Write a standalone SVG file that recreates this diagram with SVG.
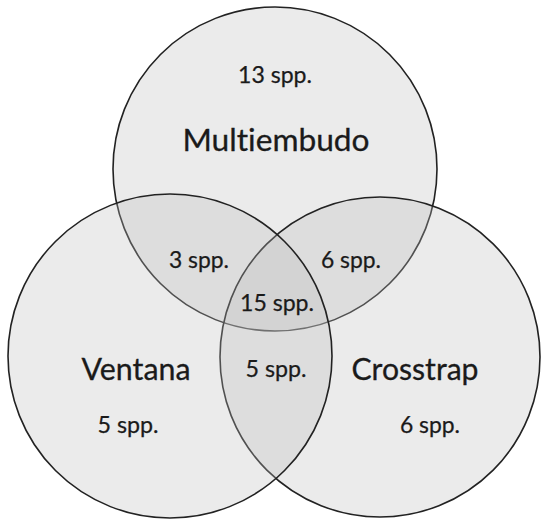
<svg xmlns="http://www.w3.org/2000/svg" width="541" height="521" viewBox="0 0 541 521">
<style>
.c{fill:#bebebe;fill-opacity:0.3;stroke:#222;stroke-width:1.6}
.l{font-family:Lato,"Open Sans",sans-serif;font-size:22.5px;fill:#1a1a1a;text-anchor:middle;font-variant-ligatures:none;stroke:#1a1a1a;stroke-width:0.25}
.t{font-family:Lato,"Open Sans",sans-serif;font-size:30px;fill:#1a1a1a;text-anchor:middle;font-variant-ligatures:none;stroke:#1a1a1a;stroke-width:0.3}
</style>
<rect width="541" height="521" fill="#fff"/>
<g id="multiembudo"><circle class="c" cx="275" cy="169" r="162"/></g>
<g id="crosstrap"><circle class="c" cx="380" cy="357" r="160"/></g>
<g id="ventana"><circle class="c" cx="170" cy="356" r="162"/></g>
<g id="connectors"></g>
<g id="labels">
<text class="l" x="275" y="83" textLength="74" lengthAdjust="spacingAndGlyphs">13 spp.</text>
<text class="t" x="276" y="151" textLength="187" lengthAdjust="spacingAndGlyphs">Multiembudo</text>
<text class="l" x="199" y="268" textLength="60" lengthAdjust="spacingAndGlyphs">3 spp.</text>
<text class="l" x="351" y="268" textLength="60" lengthAdjust="spacingAndGlyphs">6 spp.</text>
<text class="l" x="277" y="311" textLength="74" lengthAdjust="spacingAndGlyphs">15 spp.</text>
<text class="t" x="136" y="380" textLength="109" lengthAdjust="spacingAndGlyphs">Ventana</text>
<text class="l" x="276" y="377" textLength="61" lengthAdjust="spacingAndGlyphs">5 spp.</text>
<text class="t" x="415" y="380" textLength="127" lengthAdjust="spacingAndGlyphs">Crosstrap</text>
<text class="l" x="128" y="433" textLength="61" lengthAdjust="spacingAndGlyphs">5 spp.</text>
<text class="l" x="430" y="433" textLength="60" lengthAdjust="spacingAndGlyphs">6 spp.</text>
</g>
</svg>
